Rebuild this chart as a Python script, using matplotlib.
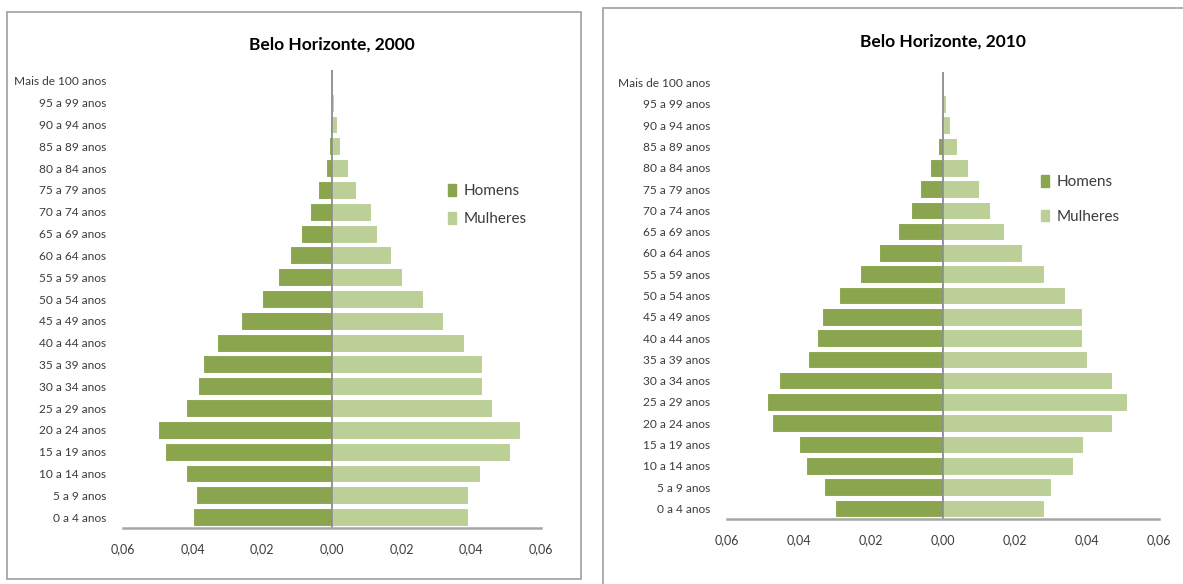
import matplotlib
matplotlib.use("Agg")
import matplotlib.pyplot as plt
from matplotlib.patches import Rectangle, Patch
from matplotlib.ticker import FuncFormatter, MultipleLocator

plt.rcParams["font.family"] = ["Lato", "DejaVu Sans"]

faixas = [
    "0 a 4 anos", "5 a 9 anos", "10 a 14 anos", "15 a 19 anos", "20 a 24 anos",
    "25 a 29 anos", "30 a 34 anos", "35 a 39 anos", "40 a 44 anos", "45 a 49 anos",
    "50 a 54 anos", "55 a 59 anos", "60 a 64 anos", "65 a 69 anos", "70 a 74 anos",
    "75 a 79 anos", "80 a 84 anos", "85 a 89 anos", "90 a 94 anos", "95 a 99 anos",
    "Mais de 100 anos",
]

homens_2000 = [0.040, 0.039, 0.042, 0.048, 0.050, 0.042, 0.0385, 0.037, 0.033, 0.026,
               0.020, 0.0155, 0.012, 0.009, 0.0063, 0.004, 0.0018, 0.001, 0.0005,
               0.0002, 0.0001]
mulheres_2000 = [0.039, 0.039, 0.0425, 0.051, 0.054, 0.046, 0.043, 0.043, 0.038, 0.032,
                 0.026, 0.020, 0.017, 0.013, 0.0112, 0.007, 0.0046, 0.0023, 0.0013,
                 0.0006, 0.0002]

homens_2010 = [0.030, 0.033, 0.038, 0.040, 0.0475, 0.049, 0.0455, 0.0375, 0.035, 0.0335,
               0.029, 0.023, 0.0178, 0.0125, 0.009, 0.0064, 0.0036, 0.0014, 0.0006,
               0.0003, 0.0001]
mulheres_2010 = [0.028, 0.030, 0.036, 0.039, 0.047, 0.051, 0.047, 0.040, 0.0385, 0.0385,
                 0.034, 0.028, 0.022, 0.017, 0.013, 0.010, 0.007, 0.004, 0.0019,
                 0.0008, 0.0003]

COR_H = "#8aa54e"
COR_M = "#bbcf96"
TXT = "#3c3c3c"
W, H = 1183, 584

fig = plt.figure(figsize=(W / 100, H / 100), dpi=100)


def px_axes(x0, y0, x1, y1):
    return fig.add_axes([x0 / W, 1 - y1 / H, (x1 - x0) / W, (y1 - y0) / H])


def painel(box, area, titulo, title_y, homens, mulheres, leg_xy, leg_gap):
    # moldura cinza do grafico
    bx0, by0, bx1, by1 = box
    fig.patches.append(Rectangle((bx0 / W, 1 - by1 / H), (bx1 - bx0) / W, (by1 - by0) / H,
                                 transform=fig.transFigure, fill=False,
                                 edgecolor="#a6a6a6", linewidth=1.3))
    ax = px_axes(*area)
    y = list(range(len(faixas)))
    ax.barh(y, [-v for v in homens], height=0.82, color=COR_H, edgecolor="white", linewidth=0.8)
    ax.barh(y, mulheres, height=0.82, color=COR_M, edgecolor="white", linewidth=0.8)
    ax.axvline(0, color="#8c8c8c", linewidth=1.3)
    ax.set_xlim(-0.06, 0.06)
    ax.set_ylim(-0.5, len(faixas) - 0.5)
    ax.xaxis.set_major_locator(MultipleLocator(0.02))
    ax.xaxis.set_major_formatter(FuncFormatter(lambda v, p: f"{abs(v):.2f}".replace(".", ",")))
    ax.set_yticks(y)
    ax.set_yticklabels(faixas)
    ax.tick_params(axis="x", length=0, pad=11, labelsize=9, labelcolor=TXT)
    ax.tick_params(axis="y", length=0, pad=12, labelsize=8.6, labelcolor=TXT)
    for s in ["top", "right", "left"]:
        ax.spines[s].set_visible(False)
    ax.spines["bottom"].set_color("#a6a6a6")
    ax.spines["bottom"].set_linewidth(1.8)
    fig.text(((area[0] + area[2]) / 2) / W, 1 - title_y / H, titulo, ha="center", va="center",
             fontsize=12.5, fontweight="bold", color="black")
    handles = [Patch(color=COR_H, label="Homens"), Patch(color=COR_M, label="Mulheres")]
    fig.legend(handles=handles, loc="upper left", bbox_to_anchor=(leg_xy[0] / W, 1 - leg_xy[1] / H),
               frameon=False, fontsize=11, handlelength=0.5, handleheight=0.8,
               handletextpad=0.5, labelspacing=leg_gap, borderpad=0, borderaxespad=0,
               labelcolor=TXT)
    return ax


painel((7, 12, 581, 579), (123, 70, 541, 528), "Belo Horizonte, 2000", 45,
       homens_2000, mulheres_2000, (448, 184), 0.9)
painel((603, 8, 1190, 590), (727, 72, 1159, 519), "Belo Horizonte, 2010", 42,
       homens_2010, mulheres_2010, (1041, 175), 1.35)

fig.savefig("out.png", dpi=100, facecolor="white")
